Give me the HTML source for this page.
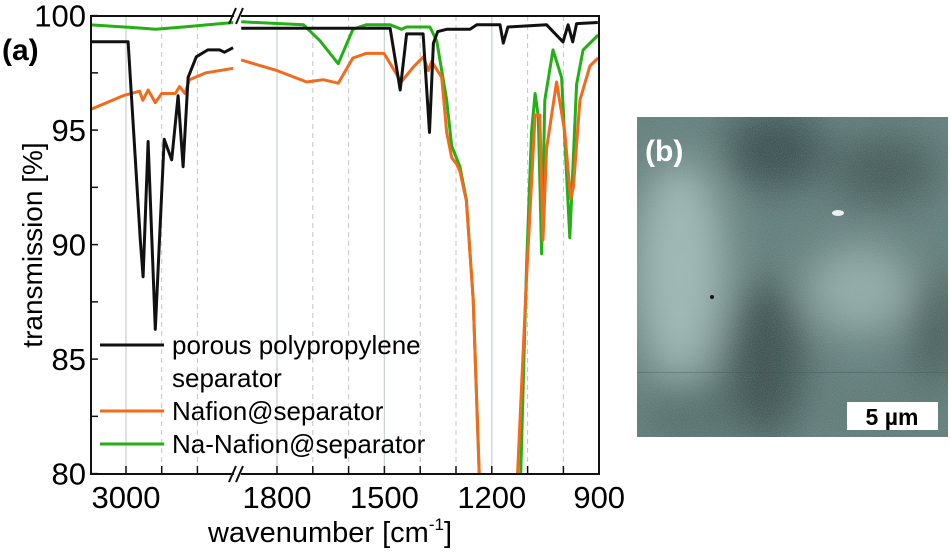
<!DOCTYPE html>
<html><head><meta charset="utf-8"><style>
body{margin:0;background:#fff;}
svg{display:block;font-family:"Liberation Sans",Arial,sans-serif;}
</style></head><body>
<svg id="chart" width="950" height="556" viewBox="0 0 950 556">
<defs>
<clipPath id="clipL"><rect x="91" y="16" width="143" height="458"/></clipPath>
<clipPath id="clipR"><rect x="241" y="16" width="358" height="458"/></clipPath>
<filter id="blur" x="-50%" y="-50%" width="200%" height="200%"><feGaussianBlur stdDeviation="20"/></filter>
<filter id="noise"><feTurbulence type="fractalNoise" baseFrequency="1.2" numOctaves="1" seed="3"/><feColorMatrix type="matrix" values="0 0 0 0 0.45 0 0 0 0 0.52 0 0 0 0 0.52 0 0 0 0.9 -0.2"/></filter>
<clipPath id="clipB"><rect x="637" y="117" width="311" height="320"/></clipPath>
</defs>
<g id="grid"></g>
<g id="series"></g>
<g id="axes"></g>
<text x="2" y="60" font-size="30" font-weight="bold">(a)</text>
<text transform="translate(42,245) rotate(-90)" text-anchor="middle" font-size="28">transmission [%]</text>
<text x="330" y="542" text-anchor="middle" font-size="29">wavenumber [cm<tspan dy="-12" font-size="17">-1</tspan><tspan dy="12">]</tspan></text>
<g>
 <g><line x1="100" y1="345" x2="164" y2="345" stroke="#111" stroke-width="3"/><text x="172" y="354" font-size="26">porous polypropylene</text><text x="172" y="387" font-size="26">separator</text></g>
 <g><line x1="100" y1="411" x2="164" y2="411" stroke="#f26b1d" stroke-width="3"/><text x="172" y="420" font-size="26">Nafion@separator</text></g>
 <g><line x1="100" y1="444" x2="164" y2="444" stroke="#22b014" stroke-width="3"/><text x="172" y="453" font-size="26">Na-Nafion@separator</text></g>
</g>
<g clip-path="url(#clipB)">
 <rect x="637" y="117" width="311" height="320" fill="#5f7b79"/>
 <g filter="url(#blur)">
  <ellipse cx="680" cy="270" rx="45" ry="110" fill="#9db7b4"/>
  <ellipse cx="775" cy="150" rx="50" ry="40" fill="#334a48"/>
  <ellipse cx="765" cy="360" rx="40" ry="80" fill="#344c4a"/>
  <ellipse cx="885" cy="170" rx="55" ry="35" fill="#3c5452"/>
  <ellipse cx="860" cy="290" rx="55" ry="45" fill="#8fa9a6"/>
  <ellipse cx="935" cy="330" rx="25" ry="60" fill="#3c5553"/>
  <ellipse cx="690" cy="415" rx="50" ry="30" fill="#4d6765"/>
  <ellipse cx="880" cy="410" rx="60" ry="25" fill="#587371"/>
 </g>
 <rect x="637" y="117" width="311" height="320" filter="url(#noise)" opacity="0.55"/>
 <rect x="637" y="372" width="311" height="1" fill="#3c5250" opacity="0.35"/>
 <ellipse cx="838" cy="213" rx="6" ry="3" fill="#e8f0ee"/>
 <circle cx="712" cy="297" r="2" fill="#111"/>
</g>
<text x="645" y="161" font-size="30" font-weight="bold" fill="#fff">(b)</text>
<rect x="847" y="402" width="91" height="28" fill="#fff"/>
<text x="892" y="425" text-anchor="middle" font-size="23" font-weight="bold">5 µm</text>
</svg>
<script>
const yTicks=[80,85,90,95,100];
const xLabels=[3000,1800,1500,1200,900];
const solidGrid=[3000,1800,1500,1200];
const dashGrid=[2900,2800,1700,1600,1400,1300,1100,1000];
const ppWn=[3100,2994,2960,2952,2938,2918,2893,2872,2854,2840,2826,2803,2771,2738,2724,2700,1900,1500,1484,1456,1438,1392,1374,1363,1351,1326,1261,1242,1177,1168,1155,1047,1001,987,974,963,904];
const ppVal=[98.86,98.86,90.2,88.6,94.5,86.3,94.6,93.7,96.5,93.4,97.3,98.2,98.5,98.5,98.4,98.6,99.45,99.45,99.45,96.75,99.2,99.2,94.9,98.8,99.3,99.4,99.4,99.6,99.6,98.8,99.5,99.6,98.85,99.6,98.85,99.65,99.7];
const nafWn=[3100,3008,2962,2953,2938,2918,2900,2862,2850,2835,2822,2776,2700,1900,1800,1717,1671,1629,1588,1551,1501,1453,1419,1391,1377,1368,1340,1326,1312,1298,1289,1271,1252,1233,1131,1103,1079,1066,1057,1047,1019,996,980,972,954,926,903];
const nafVal=[95.9,96.5,96.7,96.3,96.75,96.2,96.6,96.6,96.9,96.6,97.2,97.5,97.7,98.06,97.6,97.1,97.2,97.05,98.15,98.35,98.35,97.1,97.76,98.2,97.6,98.0,97.3,94.9,93.8,93.5,93.2,91.9,87.6,79,79,88.5,95.66,95.66,90.2,94.2,97.1,94.9,92.0,92.5,96.3,97.8,98.15];
const naWn=[3100,2953,2917,2840,2700,1900,1726,1680,1629,1588,1551,1484,1452,1438,1373,1354,1326,1312,1289,1271,1252,1233,1121,1103,1089,1079,1070,1061,1052,1029,1005,982,963,945,903];
const naVal=[99.6,99.45,99.4,99.5,99.7,99.73,99.6,98.9,97.9,99.4,99.6,99.6,99.4,99.5,99.5,98.9,96.3,94.3,93.4,91.95,87.6,79,79,89.0,94.9,96.6,95.6,89.6,96.3,98.5,97.3,90.3,97.0,98.5,99.15];
const NS="http://www.w3.org/2000/svg";
const yTop=15.6, yPer=22.9;
function yS(v){return yTop+(100-v)*yPer;}
function xS(w){return w>2650 ? 126+(3000-w)*0.357 : 277+(1800-w)*0.358;}
function mk(tag,attrs,parent){const e=document.createElementNS(NS,tag);for(const k in attrs)e.setAttribute(k,attrs[k]);parent.appendChild(e);return e;}
const grid=document.getElementById('grid'),series=document.getElementById('series'),axes=document.getElementById('axes');
solidGrid.forEach(w=>{const l=mk('line',{x1:xS(w),x2:xS(w),y1:16,y2:474,stroke:'#c9d3d3','stroke-width':1.3},grid);

});
dashGrid.forEach(w=>{const l=mk('line',{x1:xS(w),x2:xS(w),y1:16,y2:474,stroke:'#c4c4c4','stroke-width':1,'stroke-dasharray':'5,4'},grid);

});
function drawSeries(wn,val,color,name){
 const L=[],R=[];
 wn.forEach((w,i)=>{(w>2650?L:R).push(xS(w).toFixed(1)+','+yS(val[i]).toFixed(1));});
 const p1=mk('polyline',{points:L.join(' '),fill:'none',stroke:color,'stroke-width':3,'stroke-linejoin':'round','clip-path':'url(#clipL)'},series);
 
 
 const p2=mk('polyline',{points:R.join(' '),fill:'none',stroke:color,'stroke-width':3,'stroke-linejoin':'round','clip-path':'url(#clipR)'},series);
 
 
}
drawSeries(naWn,naVal,'#22b014','na-nafion-line');
drawSeries(nafWn,nafVal,'#f26b1d','nafion-line');
drawSeries(ppWn,ppVal,'#111111','pp-separator-line');
const fr=mk('path',{d:'M234,16 H91 V474 H234 M241,16 H599 V474 H241',fill:'none',stroke:'#111','stroke-width':2},axes);


[[16],[474]].forEach(([y])=>{const b=mk('path',{d:`M229,${y+8} L236,${y-8} M236,${y+8} L243,${y-8}`,stroke:'#111','stroke-width':2,fill:'none'},axes);

});
for(let v=80;v<=100;v+=2.5){const t=mk('line',{x1:91,x2:98,y1:yS(v),y2:yS(v),stroke:'#111','stroke-width':1.5},axes);

}
yTicks.forEach(v=>{const t=mk('text',{x:86,y:yS(v)+11,'text-anchor':'end','font-size':31},axes);t.textContent=v;

});
const xt=[3000,2900,2800,1800,1700,1600,1500,1400,1300,1200,1100,1000];
xt.forEach(w=>{const t=mk('line',{x1:xS(w),x2:xS(w),y1:474,y2:466,stroke:'#111','stroke-width':1.5},axes);

});
xLabels.forEach(w=>{const t=mk('text',{x:xS(w),y:508,'text-anchor':'middle','font-size':31},axes);t.textContent=w;

});
</script>
</body></html>
